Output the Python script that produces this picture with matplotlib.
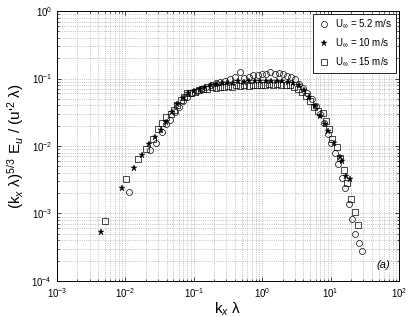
"""
Premultiplied streamwise spectra, three free-stream velocities.
"""

import numpy as np
import matplotlib
matplotlib.use('Agg')
import matplotlib.pyplot as plt
from matplotlib.ticker import LogLocator, NullFormatter

plt.rcParams['font.family'] = ['Liberation Sans', 'DejaVu Sans']
plt.rcParams['mathtext.fontset'] = 'custom'
plt.rcParams['mathtext.rm'] = 'Liberation Sans'
plt.rcParams['mathtext.it'] = 'Liberation Sans:italic'

# log10 values
log_kx_52 = [-1.94, -1.64, -1.55, -1.47, -1.40, -1.35, -1.28, -1.22, -1.16, -1.10,
             -1.03, -0.96, -0.89, -0.82, -0.75, -0.68, -0.61, -0.54, -0.47, -0.40,
             -0.33, -0.27, -0.20, -0.13, -0.06, 0.00, 0.06, 0.12, 0.18, 0.24,
             0.30, 0.36, 0.42, 0.48, 0.54, 0.60, 0.66, 0.72, 0.78, 0.84,
             0.90, 0.96, 1.01, 1.06, 1.10, 1.16, 1.215, 1.26, 1.318, 1.36,
             1.41, 1.46]
log_E_52 = [-2.68, -2.06, -1.95, -1.80, -1.68, -1.62, -1.50, -1.42, -1.33, -1.27,
            -1.22, -1.18, -1.15, -1.12, -1.09, -1.07, -1.05, -1.03, -1.01, -0.98,
            -0.91, -0.99, -0.97, -0.95, -0.95, -0.93, -0.94, -0.91, -0.93, -0.92,
            -0.94, -0.96, -0.97, -1.01, -1.08, -1.14, -1.22, -1.30, -1.40, -1.52,
            -1.66, -1.82, -1.96, -2.11, -2.27, -2.47, -2.63, -2.86, -3.09, -3.30,
            -3.44, -3.55]

log_kx_10 = [-2.35, -2.05, -1.87, -1.75, -1.65, -1.567, -1.48, -1.40, -1.32, -1.24,
             -1.16, -1.08, -0.99, -0.91, -0.83, -0.75, -0.67, -0.59, -0.51, -0.43,
             -0.35, -0.27, -0.19, -0.11, -0.03, 0.05, 0.13, 0.21, 0.29, 0.37,
             0.45, 0.53, 0.61, 0.69, 0.77, 0.85, 0.92, 0.966, 1.05, 1.137,
             1.17, 1.23, 1.284]
log_E_10 = [-3.27, -2.63, -2.33, -2.14, -1.97, -1.86, -1.76, -1.64, -1.50, -1.38,
            -1.29, -1.22, -1.19, -1.16, -1.13, -1.10, -1.08, -1.07, -1.06, -1.06,
            -1.04, -1.05, -1.04, -1.03, -1.04, -1.03, -1.03, -1.04, -1.04, -1.05,
            -1.06, -1.10, -1.17, -1.27, -1.40, -1.55, -1.68, -1.78, -1.96, -2.158,
            -2.23, -2.44, -2.49]

log_kx_15 = [-2.298, -1.996, -1.82, -1.70, -1.60, -1.52, -1.46, -1.40, -1.34, -1.285,
             -1.24, -1.19, -1.14, -1.095, -1.04, -0.98, -0.92, -0.86, -0.80, -0.74,
             -0.68, -0.62, -0.56, -0.50, -0.44, -0.38, -0.32, -0.26, -0.20, -0.14,
             -0.08, -0.02, 0.04, 0.10, 0.16, 0.22, 0.28, 0.34, 0.40, 0.46,
             0.52, 0.58, 0.64, 0.70, 0.76, 0.82, 0.88, 0.93, 0.98, 1.025,
             1.09, 1.14, 1.19, 1.24, 1.29, 1.35, 1.40]
log_E_15 = [-3.11, -2.49, -2.19, -2.04, -1.90, -1.75, -1.655, -1.575, -1.52, -1.467,
            -1.39, -1.32, -1.27, -1.22, -1.21, -1.195, -1.17, -1.15, -1.16, -1.13,
            -1.14, -1.12, -1.13, -1.11, -1.12, -1.10, -1.11, -1.10, -1.11, -1.09,
            -1.10, -1.09, -1.10, -1.08, -1.09, -1.08, -1.09, -1.09, -1.10, -1.12,
            -1.15, -1.20, -1.26, -1.33, -1.42, -1.48, -1.516, -1.625, -1.75, -1.896,
            -2.02, -2.18, -2.35, -2.55, -2.785, -2.98, -3.17]

labels = [r'U$_\infty$ = 5.2 m/s', r'U$_\infty$ = 10 m/s', r'U$_\infty$ = 15 m/s']

fig = plt.figure(figsize=(4.09, 3.17), dpi=100)
ax = fig.add_axes([0.139, 0.114, 0.837, 0.851])

ax.plot(10 ** np.array(log_kx_52), 10 ** np.array(log_E_52), linestyle='none',
        marker='o', markersize=4.3, markerfacecolor='none', markeredgecolor='black',
        markeredgewidth=0.5, label=labels[0])
ax.plot(10 ** np.array(log_kx_10), 10 ** np.array(log_E_10), linestyle='none',
        marker='*', markersize=5, color='black', markeredgewidth=0.3, label=labels[1])
ax.plot(10 ** np.array(log_kx_15), 10 ** np.array(log_E_15), linestyle='none',
        marker='s', markersize=4, markerfacecolor='none', markeredgecolor='black',
        markeredgewidth=0.5, label=labels[2])

ax.set_xscale('log')
ax.set_yscale('log')
ax.set_xlim(1e-3, 1e2)
ax.set_ylim(1e-4, 1e0)

ax.xaxis.set_major_locator(LogLocator(base=10, numticks=10))
ax.yaxis.set_major_locator(LogLocator(base=10, numticks=10))
ax.xaxis.set_minor_locator(LogLocator(base=10, subs=np.arange(2, 10), numticks=20))
ax.yaxis.set_minor_locator(LogLocator(base=10, subs=np.arange(2, 10), numticks=20))
ax.xaxis.set_minor_formatter(NullFormatter())
ax.yaxis.set_minor_formatter(NullFormatter())

ax.grid(True, which='both', linestyle=':', color='#aaaaaa', linewidth=0.6)
ax.tick_params(which='both', direction='in', top=True, right=True, labelsize=7, width=0.5)
ax.tick_params(which='major', length=3)
ax.tick_params(which='minor', length=1.5)
for sp in ax.spines.values():
    sp.set_linewidth(0.7)

ax.set_xlabel(r"k$_x$ λ", fontsize=11, labelpad=1)
ax.set_ylabel(r"(k$_x$ λ)$^{5/3}$ E$_u$ / (u$'^2$ λ)", fontsize=11, labelpad=4)

leg = ax.legend(loc='upper right', fontsize=7, frameon=True, fancybox=False,
                edgecolor='black', framealpha=1, handletextpad=0.4,
                borderaxespad=0.3, labelspacing=0.6, handlelength=1.5)
leg.get_frame().set_linewidth(0.6)

ax.text(0.975, 0.04, '(a)', transform=ax.transAxes, fontsize=8, style='italic',
        ha='right', va='bottom')

fig.savefig('out.png', dpi=100)
plt.close(fig)
